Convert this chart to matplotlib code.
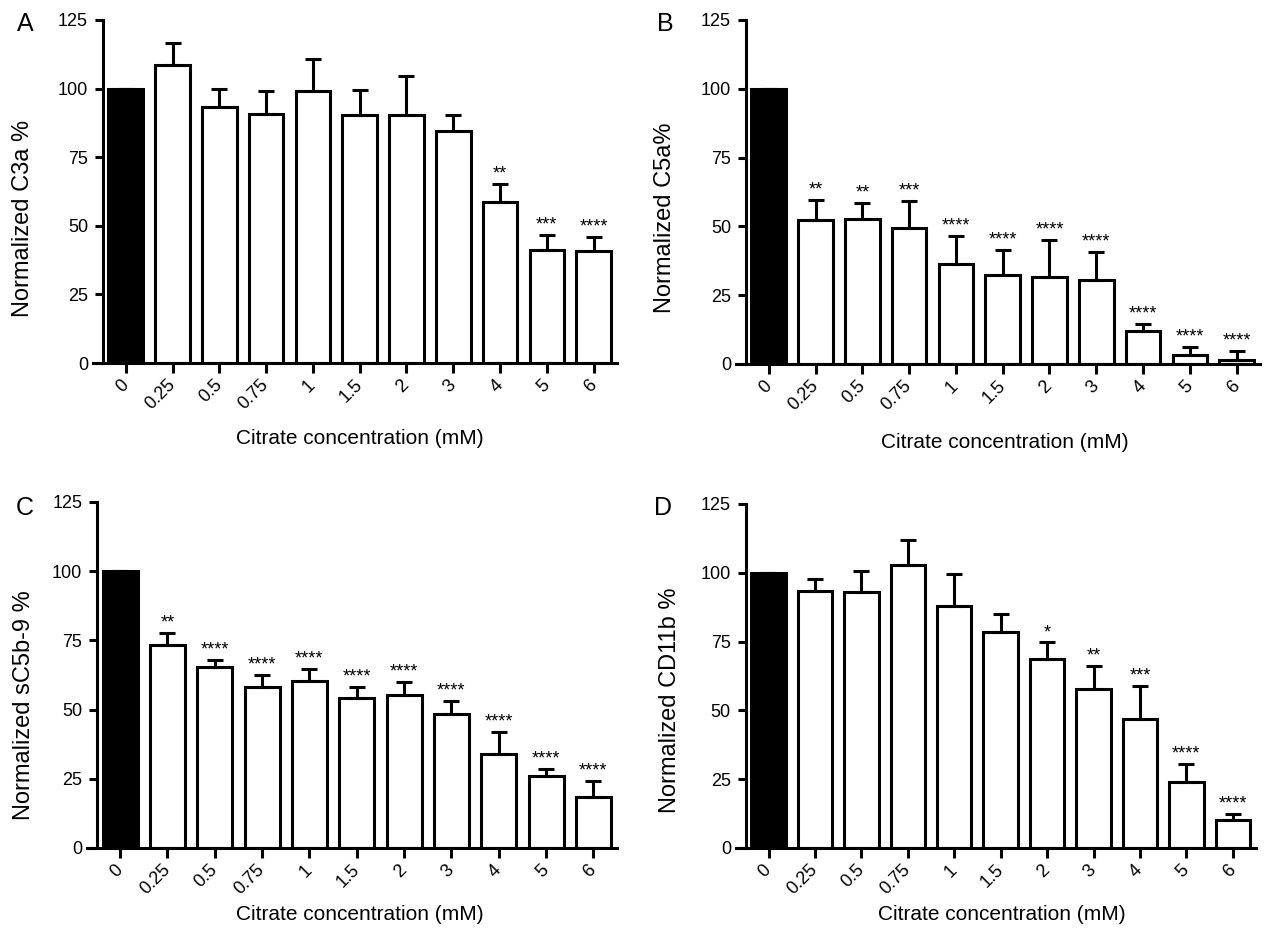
import numpy as np
import matplotlib.pyplot as plt

plt.rcParams['font.family'] = ['Liberation Sans', 'DejaVu Sans']

# citrate concentrations (mM)
conc = ['0', '0.25', '0.5', '0.75', '1', '1.5', '2', '3', '4', '5', '6']

# A - C3a
c3a_mean = [100, 108.5, 93.3, 90.9, 99.2, 90.2, 90.5, 84.7, 58.8, 41.1, 40.8]
c3a_sd = [0, 8.3, 6.7, 8.1, 11.7, 9.4, 14.0, 5.8, 6.4, 5.6, 5.0]
c3a_stars = ['', '', '', '', '', '', '', '', '**', '***', '****']

# B - C5a
c5a_mean = [100, 52.2, 52.7, 49.3, 36.3, 32.3, 31.5, 30.4, 11.9, 3.4, 1.6]
c5a_sd = [0, 7.5, 5.8, 10.1, 10.3, 9.0, 13.7, 10.4, 2.7, 2.7, 3.1]
c5a_stars = ['', '**', '**', '***', '****', '****', '****', '****', '****', '****', '****']

# C - sC5b-9
sc5b9_mean = [100, 73.3, 65.3, 58.0, 60.4, 54.3, 55.3, 48.4, 34.1, 26.0, 18.6]
sc5b9_sd = [0, 4.3, 2.5, 4.4, 4.4, 3.8, 4.7, 4.7, 7.7, 2.6, 5.7]
sc5b9_stars = ['', '**', '****', '****', '****', '****', '****', '****', '****', '****', '****']

# D - CD11b
cd11b_mean = [100, 93.3, 93.0, 102.8, 88.1, 78.4, 68.7, 57.7, 47.0, 24.1, 10.3]
cd11b_sd = [0, 4.3, 7.6, 9.3, 11.4, 6.5, 6.0, 8.5, 11.8, 6.4, 2.1]
cd11b_stars = ['', '', '', '', '', '', '*', '**', '***', '****', '****']

W, H = 1265, 933
fig = plt.figure(figsize=(W / 100, H / 100), dpi=100)

# pixel boxes: left, right, top(=125), bottom(=0), letter xy, ylabel xy, xlabel xy
panels = [
    ('A', c3a_mean, c3a_sd, c3a_stars, 'Normalized C3a %',
     (93, 617, 20, 363), (25, 24), (23, 218), (360, 438)),
    ('B', c5a_mean, c5a_sd, c5a_stars, 'Normalized C5a%',
     (736, 1260, 20, 364), (665, 24), (665, 218), (1005, 443)),
    ('C', sc5b9_mean, sc5b9_sd, sc5b9_stars, 'Normalized sC5b-9 %',
     (87, 617, 502, 848), (25, 508), (24, 705), (360, 915)),
    ('D', cd11b_mean, cd11b_sd, cd11b_stars, 'Normalized CD11b %',
     (736, 1256, 504, 848), (663, 508), (670, 700), (1002, 915)),
]

x = np.arange(len(conc))
for letter, mean, sd, stars, ylab, box, lxy, yl, xl in panels:
    left, right, top, bottom = box
    ax = fig.add_axes([left / W, 1 - bottom / H, (right - left) / W, (bottom - top) / H])
    ax.set_xlim(-0.7, 10.5)
    ax.set_ylim(0, 125)

    colors = ['black'] + ['white'] * (len(conc) - 1)
    ax.bar(x, mean, width=0.74, color=colors, edgecolor='black', linewidth=2.2, zorder=2)
    ax.errorbar(x, mean, yerr=[np.zeros(len(sd)), sd], fmt='none', ecolor='black',
                elinewidth=2.2, capsize=6, capthick=2.2, zorder=3)
    for i, s in enumerate(stars):
        if s:
            ax.annotate(s, (x[i], mean[i] + sd[i]), xytext=(0, 1), textcoords='offset points',
                        ha='center', va='bottom', fontsize=13)

    for side in ['top', 'right']:
        ax.spines[side].set_visible(False)
    ax.spines['left'].set_position(('data', -0.48))
    ax.spines['left'].set_bounds(0, 125)
    ax.spines['left'].set_linewidth(2.2)
    ax.spines['bottom'].set_linewidth(2.2)

    ax.set_yticks([0, 25, 50, 75, 100, 125])
    ax.set_xticks(x)
    ax.set_xticklabels(conc, rotation=45, ha='right', va='center', rotation_mode='anchor')
    ax.tick_params(axis='y', width=2.2, length=6, labelsize=13, pad=5)
    ax.tick_params(axis='x', width=2.2, length=7, labelsize=13, pad=7)

    w = right - left
    h = bottom - top
    ax.set_ylabel(ylab, fontsize=17, va='center')
    ax.yaxis.set_label_coords((yl[0] - left) / w, (bottom - yl[1]) / h)
    ax.set_xlabel('Citrate concentration (mM)', fontsize=15, va='center')
    ax.xaxis.set_label_coords((xl[0] - left) / w, (bottom - xl[1]) / h)

    fig.text(lxy[0] / W, 1 - lxy[1] / H, letter, fontsize=18, ha='center', va='center')

fig.savefig('out.png', dpi=100)
